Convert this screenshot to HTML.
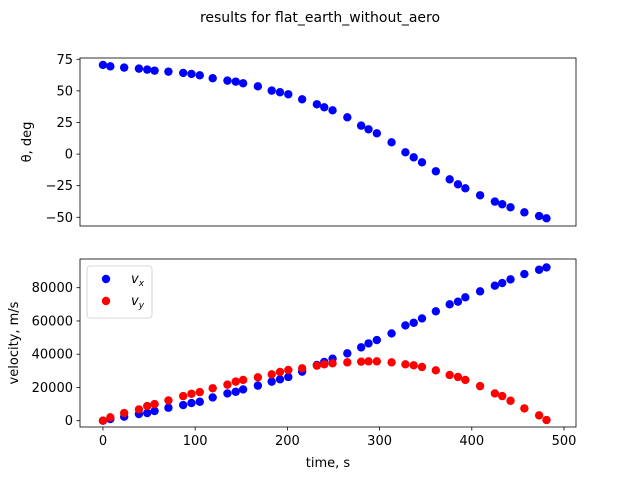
<!DOCTYPE html>
<html><head><meta charset="utf-8"><style>
body{margin:0;background:#fff;}
svg text{font-family:"DejaVu Sans","Liberation Sans",sans-serif;fill:#000;}
</style></head><body>
<svg id="chart" width="640" height="480">
<text x="320" y="22" font-size="14" text-anchor="middle">results for flat_earth_without_aero</text>
<g id="topAx"></g>
<g id="botAx"></g>
</svg>
<script>
const times=[0,8,23,39,48,56,71,87,96,105,119,135,144,152,168,183,192,201,216,232,240,249,265,280,288,297,313,328,337,346,361,376,385,393,409,425,433,442,457,473,481];
const theta=[70.5,69.4,68.4,67.6,66.8,66,65.2,64.2,63.4,62.3,60,58.1,57.3,56,53.6,50.2,48.9,47.3,43.3,39.4,37,34.6,29.1,22.5,19.6,16.4,9.3,1.4,-2.6,-6.5,-13.6,-20,-23.9,-27.1,-32.6,-37.6,-39.7,-42.1,-46.1,-49,-50.8];
const vx=[0,1000,2400,4000,4600,5800,7800,9400,10600,11400,14000,16400,17400,18800,21100,23500,24900,26300,29500,33500,35300,37300,40500,44100,46500,48500,52500,57300,58900,61500,65800,70000,71600,74200,77800,81200,82800,85000,88200,90800,92200];
const vy=[0,2000,4600,6800,8800,10000,12200,14800,16200,17200,19500,21700,23500,24500,26100,27900,29300,30500,31500,33100,33900,34500,35100,35500,35700,35700,35100,33900,33300,32300,30300,27500,26300,24500,20800,16400,14800,12000,7400,3200,400];
const xTicks=[0,100,200,300,400,500];
const thetaTicks=[75,50,25,0,-25,-50];
const vTicks=[0,20000,40000,60000,80000];

const NS='http://www.w3.org/2000/svg';
function mk(parent,tag,attrs,text){const e=document.createElementNS(NS,tag);for(const k in attrs)e.setAttribute(k,attrs[k]);if(text!==undefined)e.textContent=text;parent.appendChild(e);return e;}
const L=80,R=576;
const xs=t=>L+(t+24.9)/(513+24.9)*(R-L);
const T1=58,B1=226,T2=259,B2=427;
const yTh=v=>T1+(76-v)/(76+56.9)*(B1-T1);
const yV=v=>T2+(97260-v)/(97260+3790)*(B2-T2);
const topG=document.getElementById('topAx'),botG=document.getElementById('botAx');

times.forEach((t,i)=>{const c=mk(topG,'circle',{cx:xs(t),cy:yTh(theta[i]),r:4.2,fill:'#0000ff'});

});
thetaTicks.forEach(v=>{const y=yTh(v);mk(topG,'line',{x1:L-3.5,x2:L,y1:y,y2:y,stroke:'#000','stroke-width':0.8});
const tx=mk(topG,'text',{x:L-7,y:y+4.5,'font-size':13,'text-anchor':'end'},String(v).replace('-','\u2212'));

});
mk(topG,'rect',{x:L,y:T1,width:R-L,height:B1-T1,fill:'none',stroke:'#000','stroke-width':0.8});
const yl1=mk(topG,'text',{x:31,y:(T1+B1)/2,'font-size':13,'text-anchor':'middle',transform:`rotate(-90 31 ${(T1+B1)/2})`},'θ, deg');



times.forEach((t,i)=>{const c=mk(botG,'circle',{cx:xs(t),cy:yV(vx[i]),r:4.2,fill:'#0000ff'});

});
times.forEach((t,i)=>{const c=mk(botG,'circle',{cx:xs(t),cy:yV(vy[i]),r:4.2,fill:'#ff0000'});

});
vTicks.forEach(v=>{const y=yV(v);mk(botG,'line',{x1:L-3.5,x2:L,y1:y,y2:y,stroke:'#000','stroke-width':0.8});
const tx=mk(botG,'text',{x:L-7,y:y+4.5,'font-size':13,'text-anchor':'end'},String(v));

});
xTicks.forEach(v=>{const x=xs(v);mk(botG,'line',{x1:x,x2:x,y1:B2,y2:B2+3.5,stroke:'#000','stroke-width':0.8});
const tx=mk(botG,'text',{x:x,y:B2+18,'font-size':13,'text-anchor':'middle'},String(v));

});
mk(botG,'rect',{x:L,y:T2,width:R-L,height:B2-T2,fill:'none',stroke:'#000','stroke-width':0.8});
const yl2=mk(botG,'text',{x:18,y:(T2+B2)/2,'font-size':13,'text-anchor':'middle',transform:`rotate(-90 18 ${(T2+B2)/2})`},'velocity, m/s');


const xl=mk(botG,'text',{x:(L+R)/2,y:467,'font-size':13,'text-anchor':'middle'},'time, s');



const lg=mk(botG,'g',{});


mk(lg,'rect',{x:87,y:266,width:65,height:52,rx:3,fill:'#fff',stroke:'#ccc','stroke-width':0.8});
[['#0000ff','x',279,'legend-entry-vx'],['#ff0000','y',301,'legend-entry-vy']].forEach(([c,s,y,n])=>{
const g=mk(lg,'g',{});


mk(g,'circle',{cx:106,cy:y,r:4.2,fill:c});
const t=mk(g,'text',{x:131,y:y+4,'font-size':13,'font-style':'italic'},'v');
mk(t,'tspan',{'font-size':9,dy:3},s);});
</script>
</body></html>
